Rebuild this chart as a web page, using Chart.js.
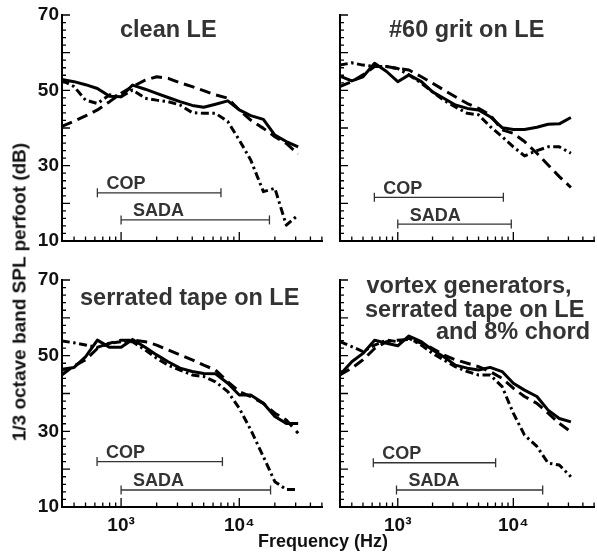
<!DOCTYPE html>
<html><head><meta charset="utf-8">
<script src="https://cdn.jsdelivr.net/npm/chart.js@4.4.1/dist/chart.umd.min.js"></script>
<style>
html,body{margin:0;padding:0;background:#fff;}
body{width:597px;height:555px;overflow:hidden;position:relative;}
canvas{position:absolute;}
.ax{position:absolute;font-family:"Liberation Sans",Arial,Helvetica,sans-serif;font-weight:bold;color:#111;white-space:nowrap;line-height:1;}
#ytitle{left:19px;top:292px;font-size:19px;transform:translate(-50%,-50%) rotate(-90deg);}
#xtitle{left:323px;top:532px;font-size:18px;transform:translate(-50%,0);}
</style></head><body>
<canvas id="c0"></canvas><canvas id="c1"></canvas><canvas id="c2"></canvas><canvas id="c3"></canvas>
<div class="ax" id="ytitle">1/3 octave band SPL perfoot (dB)</div>
<div class="ax" id="xtitle">Frequency (Hz)</div>
<script>
// ---- data ----
const bandsHz = [315,400,500,630,800,1000,1250,1600,2000,2500,3150,4000,5000,6300,8000,10000,12500,16000,20000,25000,31500];

const cleanSolid   = [52.9,52.3,51.5,50.5,48.4,48.3,51.4,50.3,49.2,48.1,47.0,46.0,45.5,46.3,47.2,44.8,43.3,42.3,38.1,36.4,35.0];
const cleanDashed  = [40.4,41.8,43.2,44.8,47.0,49.2,51.0,52.7,53.6,53.2,52.0,51.0,49.9,48.8,47.9,44.8,42.1,39.9,37.7,35.9,33.1];
const cleanDashDot = [52.7,51.0,47.4,46.5,48.8,48.3,50.1,47.9,47.4,47.0,46.1,44.1,43.9,43.9,41.7,36.8,31.5,23.1,24.0,14.2,16.9];

const gritSolid    = [53.8,52.5,53.6,57.2,55.0,52.3,54.1,52.3,49.6,47.9,46.1,45.2,44.8,43.0,40.1,39.6,39.6,40.2,41.0,41.1,42.8];
const gritDashed   = [51.0,52.3,54.1,56.3,56.3,55.8,55.4,53.6,51.9,50.1,48.3,46.5,45.2,43.5,39.5,38.6,36.4,33.3,30.2,27.1,24.2];
const gritDashDot  = [56.7,57.3,56.7,56.3,56.3,55.8,54.1,51.9,49.6,47.4,45.6,43.9,43.5,40.4,37.7,35.0,32.6,34.0,35.0,35.0,33.3];

const serrSolid    = [46.4,46.9,49.7,54.1,52.2,52.2,54.3,52.2,50.2,48.4,46.7,45.8,45.3,45.2,42.7,39.6,39.6,37.4,33.9,32.1,32.1];
const serrDashed   = [44.9,47.3,48.9,51.9,53.3,54.1,54.1,53.7,52.8,51.5,50.2,48.9,47.5,46.2,43.1,40.5,39.2,37.4,34.8,33.0,29.5];
const serrDashDot  = [53.9,53.4,52.8,52.2,53.3,53.7,53.7,51.5,49.3,47.5,46.2,44.9,44.5,43.1,40.5,36.1,30.4,23.3,16.7,14.6,14.6];

const vgSolid      = [44.9,48.4,50.6,54.1,53.3,52.6,55.2,53.7,51.5,49.7,47.5,46.7,46.2,46.9,45.8,42.7,40.9,39.2,35.6,33.4,32.5];
const vgDashed     = [44.9,46.7,48.9,51.9,53.7,54.1,54.3,53.3,51.9,50.2,48.9,48.0,47.1,45.8,44.0,41.4,39.2,37.4,34.8,32.1,29.9];
const vgDashDot    = [53.7,52.4,51.1,52.8,54.1,53.7,54.6,52.8,50.6,48.9,47.1,45.8,44.9,44.9,41.8,34.8,29.0,26.0,21.6,21.1,18.0];

const panelTitles = [['clean LE'], ['#60 grit on LE'], ['serrated tape on LE'], ['vortex generators,', 'serrated tape on LE', 'and 8% chord']];

const copStart  = [630, 627, 626, 614];
const copEnd    = [7000, 8200, 7200, 7030];
const copLevel  = [22.8, 21.6, 22.0, 21.7];
const sadaStart = [1000, 1000, 1000, 975];
const sadaEnd   = [18000, 9600, 18400, 17950];
const sadaLevel = [15.6, 14.5, 14.5, 14.5];

const yTickValues = [10, 30, 50, 70];
const xTickValues = [1000, 10000];
const xTickLabels = ['10³', '10⁴'];
const xMin = 316.2, xMax = 50119, yMin = 10, yMax = 70;

// ---- layout ----
const FONT = '"Liberation Sans", Arial, Helvetica, sans-serif';
const layouts = [
  {left:0,   top:0,   w:330, h:260, yW:62, xH:19, padT:15, padR:8, showX:false, showY:true,
   titles:[{x:120, y:37, align:'left'}]},
  {left:330, top:0,   w:270, h:260, yW:10, xH:19, padT:15, padR:0, showX:false, showY:false,
   titles:[{x:389, y:36.5, align:'left'}]},
  {left:0,   top:260, w:330, h:295, yW:62, xH:48, padT:20, padR:8, showX:true, showY:true,
   titles:[{x:80, y:305, align:'left'}]},
  {left:330, top:260, w:270, h:295, yW:10, xH:48, padT:20, padR:0, showX:true, showY:false,
   titles:[{x:366.5, y:293, align:'left'},{x:365, y:316.5, align:'left'},{x:590, y:338.5, align:'right'}]}
];
const series = [
  [cleanSolid, cleanDashed, cleanDashDot],
  [gritSolid, gritDashed, gritDashDot],
  [serrSolid, serrDashed, serrDashDot],
  [vgSolid, vgDashed, vgDashDot]
];
const dashes = [[], [11, 6], [8, 3.5, 2.5, 3.5]];

const decoPlugin = {
  id: 'deco',
  afterDraw(chart, args, o) {
    const ctx = chart.ctx, xs = chart.scales.x, ys = chart.scales.y, ca = chart.chartArea;
    ctx.save();
    ctx.strokeStyle = '#000'; ctx.lineWidth = 1.3; ctx.setLineDash([]);
    ctx.beginPath();
    for (let d = 100; d <= 10000; d *= 10) for (let m = 1; m <= 9; m++) {
      const v = m * d; if (v < xs.min || v > xs.max) continue;
      const px = xs.getPixelForValue(v);
      const len = m === 1 ? 9 : 4.5;
      ctx.moveTo(px, ca.bottom); ctx.lineTo(px, ca.bottom - len);
    }
    for (let v = yMin; v <= yMax; v += 2) {
      const py = ys.getPixelForValue(v);
      const len = v % 10 === 0 ? 8 : 4;
      ctx.moveTo(ca.left, py); ctx.lineTo(ca.left + len, py);
    }
    ctx.stroke();
    ctx.fillStyle = '#333';
    ctx.textBaseline = 'alphabetic';
    ctx.font = 'bold 23.5px ' + FONT;
    o.titles.forEach(t => { ctx.textAlign = t.align; ctx.fillText(t.text, t.x, t.y); });
    ctx.font = 'bold 18px ' + FONT;
    ctx.textAlign = 'left';
    o.ranges.forEach(r => {
      ctx.fillText(r.label, xs.getPixelForValue(r.start) + r.dx, ys.getPixelForValue(r.level) - 3.5);
    });
    ctx.restore();
  }
};

function rangeDataset(s, e, lv) {
  return {
    data: [{x: s, y: lv}, {x: e, y: lv}],
    borderColor: '#333', borderWidth: 1.3, borderDash: [],
    pointStyle: 'line', pointRotation: 90, pointRadius: 4.5,
    pointBorderWidth: 1.3, pointBorderColor: '#333', pointBackgroundColor: '#333'
  };
}

layouts.forEach((L, i) => {
  const cv = document.getElementById('c' + i);
  cv.width = L.w; cv.height = L.h;
  cv.style.left = L.left + 'px'; cv.style.top = L.top + 'px';
  cv.style.width = L.w + 'px'; cv.style.height = L.h + 'px';
  const datasets = series[i].map((vals, k) => ({
    data: bandsHz.map((f, j) => ({x: f, y: vals[j]})),
    borderColor: '#000', borderWidth: 3, borderDash: dashes[k],
    borderJoinStyle: 'round', borderCapStyle: 'butt',
    pointRadius: 0, tension: 0, fill: false
  }));
  datasets.push(rangeDataset(copStart[i], copEnd[i], copLevel[i]));
  datasets.push(rangeDataset(sadaStart[i], sadaEnd[i], sadaLevel[i]));
  const titles = panelTitles[i].map((t, k) => ({
    text: t, x: L.titles[k].x - L.left, y: L.titles[k].y - L.top, align: L.titles[k].align
  }));
  new Chart(cv, {
    type: 'line',
    data: {datasets},
    options: {
      responsive: false, animation: false, devicePixelRatio: 1, events: [],
      layout: {padding: {left: 0, right: L.padR, top: L.padT, bottom: 0}},
      scales: {
        x: {
          type: 'logarithmic', min: xMin, max: xMax,
          afterBuildTicks: s => { s.ticks = xTickValues.map(v => ({value: v})); },
          afterFit: s => { s.height = L.xH; },
          grid: {display: false, drawTicks: false},
          border: {display: true, color: '#000', width: 2},
          ticks: {
            display: L.showX, autoSkip: false, maxRotation: 0, minRotation: 0, padding: 7,
            color: '#111', font: {family: FONT, size: 19, weight: 'bold'},
            callback: v => { const k = xTickValues.indexOf(v); return k >= 0 ? xTickLabels[k] : ''; }
          }
        },
        y: {
          type: 'linear', min: yMin, max: yMax,
          afterBuildTicks: s => { s.ticks = yTickValues.map(v => ({value: v})); },
          afterFit: s => { s.width = L.yW; },
          grid: {display: false, drawTicks: false},
          border: {display: true, color: '#000', width: 2},
          ticks: {
            display: L.showY, padding: 3, color: '#111',
            font: {family: FONT, size: 19, weight: 'bold'}
          }
        }
      },
      plugins: {
        legend: {display: false}, tooltip: {enabled: false},
        deco: {
          titles,
          ranges: [
            {label: 'COP', start: copStart[i], level: copLevel[i], dx: 9},
            {label: 'SADA', start: sadaStart[i], level: sadaLevel[i], dx: 12}
          ]
        }
      }
    },
    plugins: [decoPlugin]
  });
});
</script>
</body></html>
